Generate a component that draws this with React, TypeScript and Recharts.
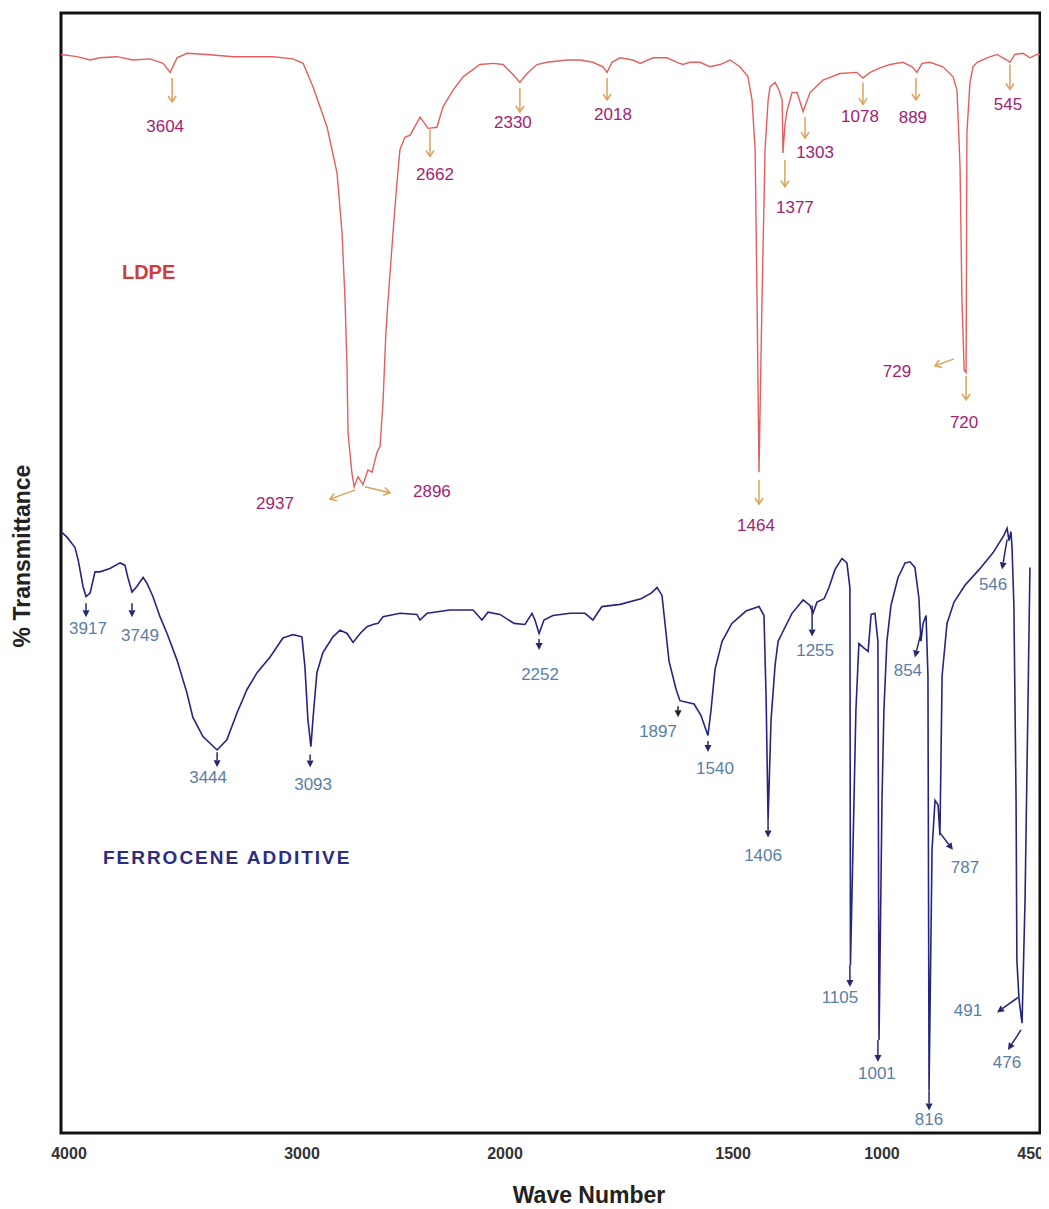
import { ComposedChart, Line, XAxis, YAxis, ReferenceArea, ReferenceDot } from "recharts";

const FONT = "Arial, 'Liberation Sans', sans-serif";

// [wavenumber cm-1, % transmittance (offset scale)]
const ldpeSpectrum: [number, number][] = [
  [4000, 96.3], [3942, 96.1], [3895, 95.8], [3859, 96.0], [3797, 96.1], [3739, 95.8], [3677, 95.9], [3630, 95.5],
  [3604, 94.7], [3579, 96.0], [3543, 96.4], [3471, 96.3], [3376, 96.1], [3304, 96.1], [3231, 96.1], [3159, 95.9],
  [3122, 95.5], [3086, 93.4], [3035, 89.8], [2999, 85.7], [2981, 80.4], [2970, 74.4], [2963, 68.4], [2959, 62.5],
  [2945, 58.9], [2937, 57.7], [2923, 58.6], [2905, 57.9], [2887, 59.2], [2872, 59.0], [2854, 60.8], [2843, 61.3],
  [2832, 65.4], [2822, 71.4], [2814, 74.4], [2796, 80.4], [2782, 84.8], [2771, 87.8], [2753, 88.9], [2734, 89.1],
  [2698, 90.7], [2669, 89.7], [2637, 89.8], [2615, 91.6], [2579, 93.1], [2542, 94.3], [2481, 95.4], [2433, 95.5],
  [2397, 95.4], [2361, 94.5], [2336, 93.8], [2310, 94.6], [2274, 95.4], [2238, 95.6], [2165, 95.8], [2118, 95.8],
  [2071, 95.6], [2035, 95.2], [2020, 94.7], [2002, 95.6], [1973, 96.0], [1926, 95.8], [1900, 95.5], [1853, 96.0],
  [1803, 96.0], [1766, 95.6], [1745, 95.4], [1719, 95.6], [1683, 95.6], [1647, 95.2], [1610, 95.4], [1574, 95.8],
  [1538, 95.2], [1509, 94.3], [1494, 92.2], [1483, 87.8], [1476, 74.4], [1469, 59.0], [1458, 74.4], [1447, 87.8],
  [1436, 92.2], [1429, 93.4], [1411, 93.8], [1396, 93.1], [1385, 92.2], [1382, 87.5], [1375, 90.0], [1367, 91.3],
  [1349, 92.9], [1331, 92.9], [1309, 91.2], [1284, 92.9], [1237, 94.0], [1175, 94.6], [1114, 94.7], [1092, 94.2],
  [1066, 94.7], [1030, 95.1], [994, 95.4], [947, 95.6], [914, 95.2], [896, 94.7], [878, 95.5], [849, 95.6],
  [802, 95.2], [765, 94.3], [751, 93.1], [740, 86.3], [733, 74.4], [725, 68.1], [718, 67.9], [715, 89.3],
  [704, 93.8], [693, 95.2], [678, 95.6], [642, 96.0], [606, 96.3], [570, 95.8], [559, 95.6], [541, 96.3],
  [512, 96.4], [486, 96.0], [461, 96.3], [450, 96.3],
];

const ferroceneSpectrum: [number, number][] = [
  [4000, 53.7], [3978, 53.2], [3949, 52.3], [3937, 51.2], [3919, 48.8], [3908, 47.9], [3893, 48.2], [3875, 50.1],
  [3857, 50.1], [3820, 50.4], [3783, 50.9], [3765, 50.7], [3754, 49.6], [3739, 48.3], [3721, 48.8], [3710, 49.2],
  [3698, 49.6], [3684, 49.1], [3662, 47.9], [3636, 46.1], [3610, 44.6], [3573, 42.2], [3537, 39.3], [3515, 37.1],
  [3478, 35.4], [3426, 34.2], [3390, 35.1], [3353, 37.5], [3316, 39.6], [3279, 41.1], [3231, 42.5], [3184, 44.2],
  [3147, 44.5], [3114, 44.3], [3103, 41.6], [3092, 36.9], [3081, 34.5], [3073, 37.1], [3059, 41.1], [3037, 42.9],
  [3000, 44.3], [2974, 44.9], [2948, 44.6], [2926, 43.8], [2900, 44.6], [2875, 45.2], [2853, 45.4], [2834, 45.5],
  [2816, 46.1], [2753, 46.4], [2691, 46.3], [2680, 45.8], [2654, 46.4], [2570, 46.7], [2485, 46.7], [2452, 45.8],
  [2430, 46.5], [2386, 46.3], [2334, 45.5], [2294, 45.4], [2268, 46.4], [2257, 45.8], [2242, 44.6], [2224, 45.8],
  [2191, 46.2], [2128, 46.4], [2073, 46.4], [2044, 45.8], [2011, 47.0], [1944, 47.2], [1867, 47.7], [1830, 48.2],
  [1808, 48.7], [1790, 48.0], [1779, 45.5], [1764, 42.1], [1738, 39.6], [1724, 38.6], [1672, 38.3], [1647, 37.3],
  [1621, 35.5], [1610, 37.7], [1595, 41.4], [1569, 43.9], [1533, 45.5], [1481, 46.6], [1433, 47.0], [1415, 46.2],
  [1407, 38.7], [1400, 27.9], [1389, 36.9], [1374, 41.8], [1363, 43.9], [1349, 44.6], [1312, 46.4], [1271, 47.6],
  [1246, 47.1], [1235, 46.4], [1220, 47.4], [1194, 47.7], [1176, 48.7], [1154, 50.3], [1128, 51.3], [1110, 50.9],
  [1099, 48.7], [1097, 15.0], [1084, 29.7], [1077, 37.7], [1066, 43.7], [1047, 43.3], [1032, 43.0], [1021, 46.3],
  [1007, 46.4], [996, 43.9], [992, 8.3], [981, 29.7], [974, 37.7], [963, 43.9], [948, 47.1], [922, 49.6],
  [896, 50.9], [878, 51.0], [860, 50.5], [845, 47.7], [838, 43.9], [830, 45.5], [819, 46.2], [812, 40.8],
  [808, 3.8], [797, 25.3], [786, 29.7], [775, 29.3], [768, 26.6], [760, 40.8], [742, 45.5], [716, 47.4],
  [676, 48.9], [624, 50.3], [573, 51.8], [547, 52.8], [532, 53.4], [521, 54.0], [514, 52.9], [507, 53.7],
  [503, 52.4], [496, 47.1], [488, 29.7], [485, 15.4], [477, 11.9], [466, 9.8], [455, 20.8], [444, 38.7],
  [437, 50.5],
];

// peak call-outs: [printed label, wavenumber where the arrow starts, transmittance there]
const ldpePeaks: [string, number, number][] = [
  ["3604", 3597, 94.2], ["2662", 2662, 89.6], ["2330", 2336, 93.3], ["2018", 2020, 94.2],
  ["2937", 2934, 57.4], ["2896", 2898, 57.7], ["1464", 1469, 58.3], ["1377", 1375, 86.9],
  ["1303", 1302, 90.7], ["1078", 1092, 93.8], ["889", 900, 94.2], ["545", 559, 95.4],
  ["729", 733, 69.3], ["720", 718, 67.6],
];

const ferrocenePeaks: [string, number, number][] = [
  ["3917", 3908, 47.3], ["3749", 3739, 47.3], ["3444", 3426, 34.0], ["3093", 3084, 33.8],
  ["2252", 2242, 44.1], ["1897", 1731, 38.1], ["1540", 1621, 35.0], ["1406", 1400, 27.9],
  ["1255", 1238, 47.1], ["1105", 1099, 15.0], ["1001", 996, 8.3], ["854", 838, 44.6],
  ["816", 808, 3.8], ["787", 768, 26.8], ["546", 521, 53.0], ["491", 481, 12.1], ["476", 470, 9.2],
];

const seriesNames = ["LDPE", "FERROCENE ADDITIVE"];

// printed scale: labels and where they sit along the axis
const axisTickLabels = ["4000", "3000", "2000", "1500", "1000", "450"];
const axisTickAt = [3971, 3126, 2390, 1563, 1023, 450];

type Callout = { start?: [number, number]; end: [number, number]; text: [number, number] };

// pixel offsets of each arrow / label from its anchor
const ldpeLayout: Record<string, Callout> = {
  "3604": { end: [0, 24], text: [-7, 49] },
  "2662": { end: [0, 27], text: [5, 45] },
  "2330": { end: [0, 24], text: [-7, 34] },
  "2018": { end: [0, 22], text: [6, 37] },
  "2937": { end: [-25, 9], text: [-80, 13] },
  "2896": { end: [25, 6], text: [67, 5] },
  "1464": { end: [0, 24], text: [-3, 45] },
  "1377": { end: [0, 27], text: [10, 48] },
  "1303": { end: [0, 21], text: [10, 35] },
  "1078": { end: [0, 22], text: [-3, 34] },
  "889": { end: [0, 22], text: [-3, 40] },
  "545": { end: [0, 25], text: [-2, 40] },
  "729": { start: [-8, 2], end: [-27, 9], text: [-65, 15] },
  "720": { end: [0, 24], text: [-2, 47] },
};

const ferroceneLayout: Record<string, Callout> = {
  "3917": { end: [0, 14], text: [2, 25] },
  "3749": { end: [0, 14], text: [8, 32] },
  "3444": { end: [0, 15], text: [-9, 25] },
  "3093": { end: [0, 13], text: [3, 30] },
  "2252": { end: [0, 11], text: [1, 35] },
  "1897": { end: [0, 11], text: [-20, 25] },
  "1540": { end: [0, 11], text: [7, 27] },
  "1406": { end: [0, 17], text: [-5, 35] },
  "1255": { end: [0, 31], text: [3, 45] },
  "1105": { end: [0, 22], text: [-10, 32] },
  "1001": { end: [0, 22], text: [-1, 33] },
  "854": { end: [-6, 24], text: [-13, 37] },
  "816": { end: [0, 20], text: [0, 29] },
  "787": { end: [13, 17], text: [25, 35] },
  "546": { end: [-5, 30], text: [-14, 45] },
  "491": { end: [-21, 15], text: [-50, 13] },
  "476": { end: [-13, 20], text: [-14, 33] },
};

const toPoints = (rows: [number, number][]) => rows.map(([wn, t]) => ({ wn, t }));

function calloutShape(label: string, lay: Callout, arrow: string, ink: string, filled: boolean) {
  return (p: any) => {
    const { cx, cy } = p;
    const [sx, sy] = lay.start ?? [0, 0];
    const x1 = cx + sx;
    const y1 = cy + sy;
    const x2 = cx + lay.end[0];
    const y2 = cy + lay.end[1];
    const a = Math.atan2(y2 - y1, x2 - x1);
    const h = filled ? 7 : 6;
    const w = filled ? 3.5 : 4;
    const bx = x2 - h * Math.cos(a);
    const by = y2 - h * Math.sin(a);
    const nx = -Math.sin(a) * w;
    const ny = Math.cos(a) * w;
    return (
      <g>
        <line x1={x1} y1={y1} x2={filled ? bx : x2} y2={filled ? by : y2} stroke={arrow} strokeWidth={1.5} />
        {filled ? (
          <polygon points={`${x2},${y2} ${bx + nx},${by + ny} ${bx - nx},${by - ny}`} fill={arrow} />
        ) : (
          <polyline points={`${bx + nx},${by + ny} ${x2},${y2} ${bx - nx},${by - ny}`} fill="none" stroke={arrow} strokeWidth={1.5} />
        )}
        <text x={cx + lay.text[0]} y={cy + lay.text[1]} textAnchor="middle" dominantBaseline="central"
          fill={ink} fontSize={17} fontFamily={FONT}>
          {label}
        </text>
      </g>
    );
  };
}

const yTitle = (props: any) => {
  const vb = props.viewBox;
  const x = vb.x + 14;
  const y = vb.y + 543;
  return (
    <text x={x} y={y} transform={`rotate(-90 ${x} ${y})`} textAnchor="middle" dominantBaseline="central"
      fontSize={23} fontWeight="bold" fontFamily={FONT} fill="#222">
      % Transmittance
    </text>
  );
};

const xTitle = (props: any) => {
  const vb = props.viewBox;
  return (
    <text x={vb.x + 528} y={vb.y + 62} textAnchor="middle" dominantBaseline="central"
      fontSize={23} fontWeight="bold" fontFamily={FONT} fill="#222">
      Wave Number
    </text>
  );
};

const scaleTick = (p: any) => {
  const label = axisTickLabels[axisTickAt.indexOf(p.payload.value)] ?? "";
  const last = label === "450";
  return (
    <text x={last ? p.x + 4 : p.x} y={p.y} dy="0.71em" textAnchor={last ? "end" : "middle"}
      fontSize={16} fontWeight="bold" fontFamily={FONT} fill="#333">
      {label}
    </text>
  );
};

export default function App() {
  const ldpe = toPoints(ldpeSpectrum);
  const ferro = toPoints(ferroceneSpectrum);

  return (
    <div style={{ width: 1041, height: 1201, background: "#fff" }}>
      <ComposedChart width={1041} height={1201} margin={{ top: 5, right: 9, left: 0, bottom: 46 }}>
        <XAxis xAxisId="ldpe" dataKey="wn" type="number" domain={[450, 4000]} reversed allowDataOverflow
          ticks={axisTickAt} interval={0} tick={scaleTick}
          tickLine={false} axisLine={false} tickSize={0} tickMargin={15} height={30}
          label={xTitle} />
        <XAxis xAxisId="ferro" dataKey="wn" type="number" domain={[400, 4000]} reversed allowDataOverflow
          hide height={0} orientation="top" />
        <YAxis dataKey="t" type="number" domain={[0, 100]} allowDataOverflow width={53}
          tick={false} tickLine={false} axisLine={false} label={yTitle} />

        <ReferenceArea xAxisId="ldpe" x1={4000} x2={450} y1={0} y2={100} fill="none" stroke="#111" strokeWidth={3}
          ifOverflow="visible" />

        <Line xAxisId="ldpe" data={ldpe} dataKey="t" type="linear" stroke="#e0605f" strokeWidth={1.4}
          dot={false} isAnimationActive={false} />
        <Line xAxisId="ferro" data={ferro} dataKey="t" type="linear" stroke="#25257f" strokeWidth={1.6}
          dot={false} isAnimationActive={false} />

        <ReferenceDot xAxisId="ldpe" x={3779} y={76.9} r={0}
          shape={(p: any) => (
            <text x={p.cx} y={p.cy} dominantBaseline="central" fontSize={20} fontWeight="bold"
              fontFamily={FONT} fill="#cc3d3d">{seriesNames[0]}</text>
          )} />
        <ReferenceDot xAxisId="ferro" x={3846} y={24.6} r={0}
          shape={(p: any) => (
            <text x={p.cx} y={p.cy} dominantBaseline="central" fontSize={19} fontWeight="bold" letterSpacing={2}
              fontFamily={FONT} fill="#2b2d80">{seriesNames[1]}</text>
          )} />

        {ldpePeaks.map(([label, wn, t]) => (
          <ReferenceDot key={`l${label}`} xAxisId="ldpe" x={wn} y={t} r={0}
            shape={calloutShape(label, ldpeLayout[label], "#dba15a", "#a3236f", false)} />
        ))}
        {ferrocenePeaks.map(([label, wn, t]) => (
          <ReferenceDot key={`f${label}`} xAxisId="ferro" x={wn} y={t} r={0}
            shape={calloutShape(label, ferroceneLayout[label], label === "1897" ? "#222" : "#26286e", "#5b7ea6", true)} />
        ))}
      </ComposedChart>
    </div>
  );
}
